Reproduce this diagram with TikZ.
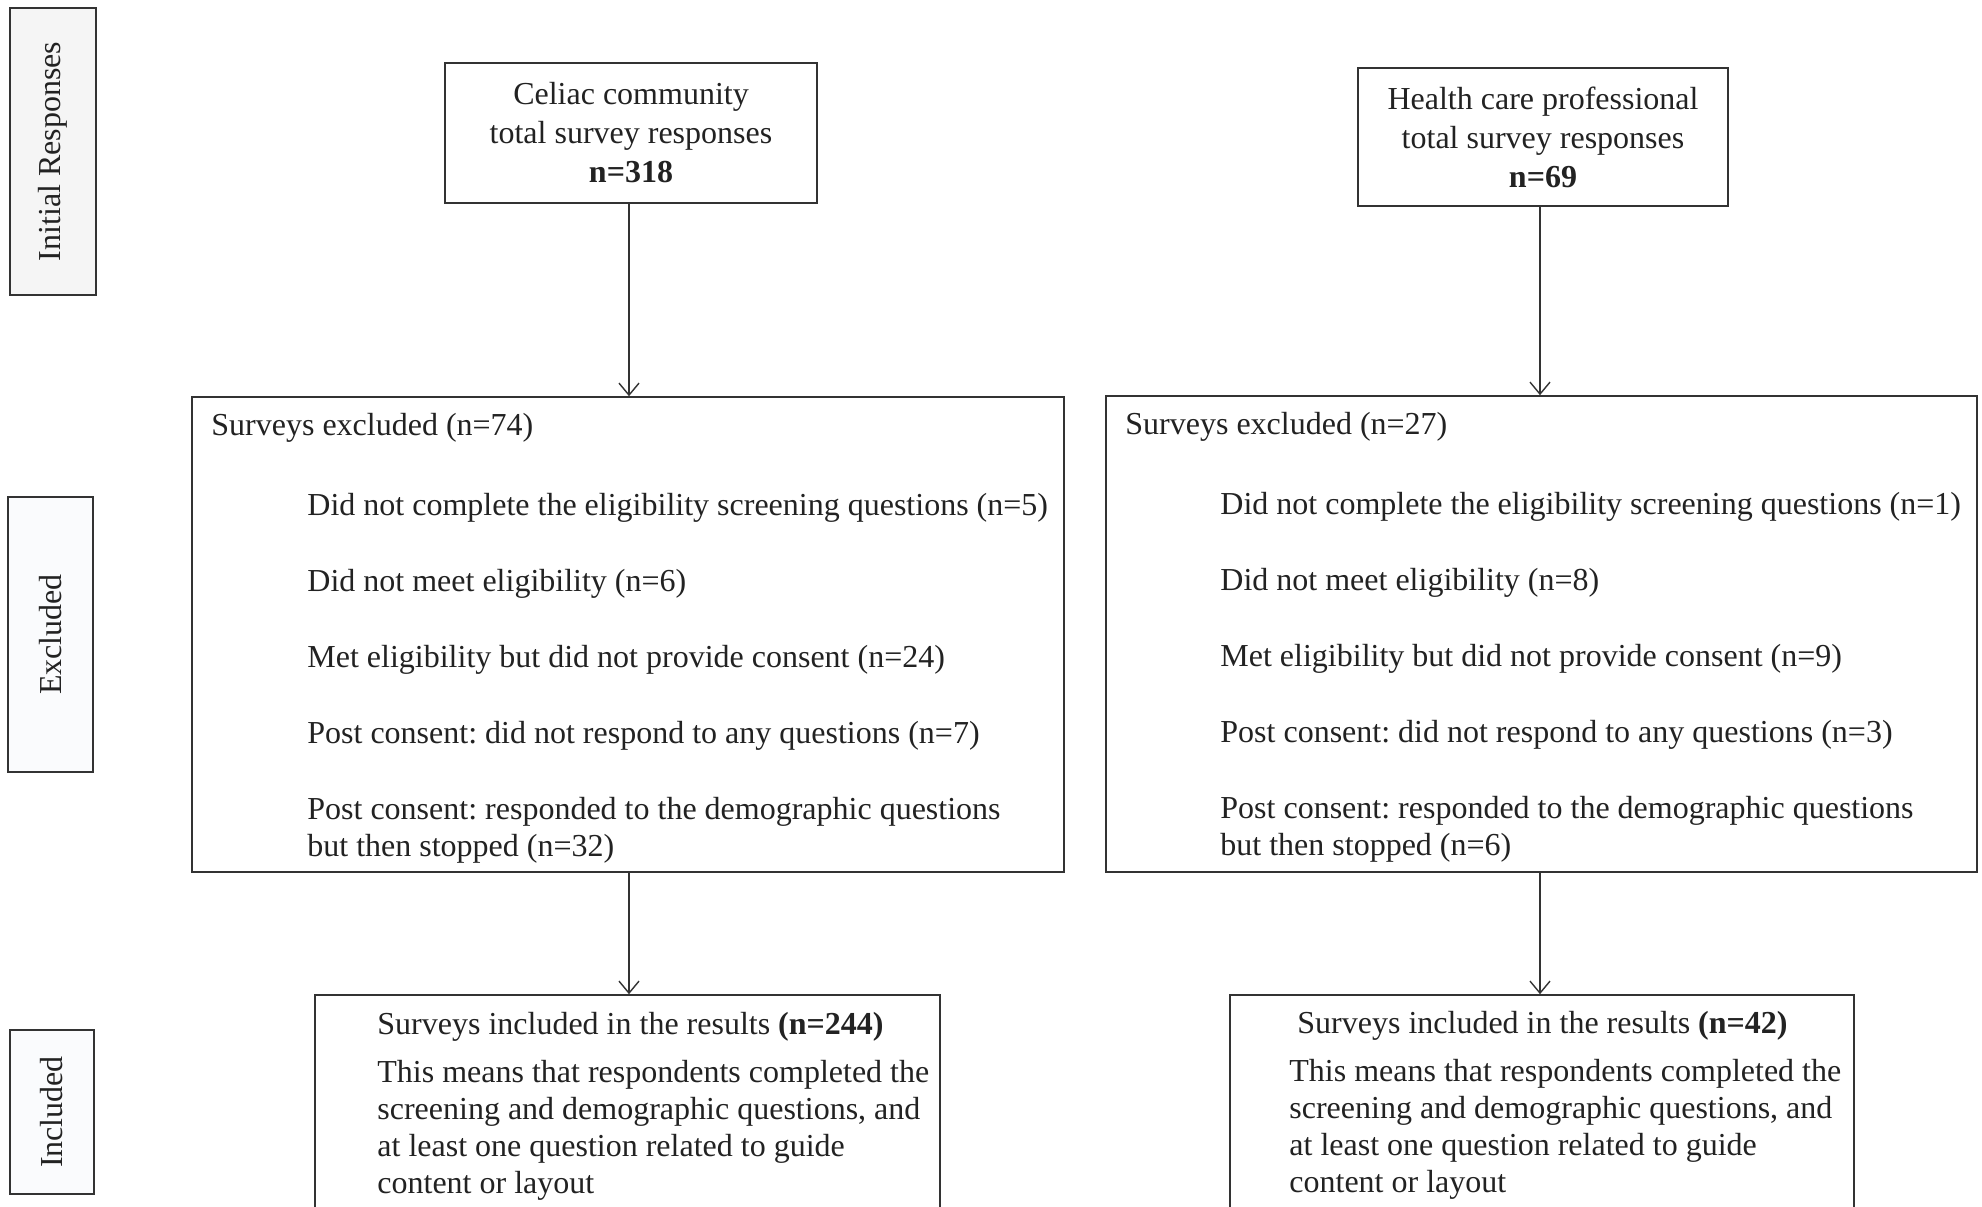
\documentclass[tikz,border=0pt]{standalone}
\usepackage{fontspec}
\setmainfont{Liberation Serif}
\usetikzlibrary{arrows.meta}
\definecolor{txt}{HTML}{222222}
\definecolor{edge}{HTML}{333333}
\definecolor{fillA}{HTML}{F5F5F5}
\definecolor{fillB}{HTML}{FAFBFD}
\frenchspacing
\begin{document}
\begin{tikzpicture}[x=0.5pt,y=-0.5pt,
  every node/.style={text=txt,font=\fontsize{16}{18.5}\selectfont},
  mainbox/.style={draw=edge,line width=0.8pt,fill=white,inner sep=0pt},
  sidebox/.style={draw=edge,line width=0.8pt,inner sep=0pt},
  sidelabel/.style={rotate=90,font=\fontsize{16}{18.5}\selectfont},
  item/.style={anchor=west,align=left,inner sep=0pt},
  flow/.style={draw=edge,line width=0.7pt,-{Straight Barb[length=6pt,width=10pt]}}
]
\clip (0,0) rectangle (1982,1206);
\fill[white] (0,0) rectangle (1982,1206);

% side labels
\node[sidebox,fill=fillA,minimum width=43pt,minimum height=143.5pt] (sInit) at (53,151.5) {};
\node[sidelabel] (lInit) at (sInit.center) {Initial Responses};
\node[sidebox,fill=fillB,minimum width=42.5pt,minimum height=137.5pt] (sExcl) at (50.5,634.5) {};
\node[sidelabel] (lExcl) at (sExcl.center) {Excluded};
\node[sidebox,fill=fillB,minimum width=42pt,minimum height=82pt] (sIncl) at (52,1112) {};
\node[sidelabel] (lIncl) at (sIncl.center) {Included};

% top boxes
\node[mainbox,minimum width=186pt,minimum height=70pt,align=center,font=\fontsize{16}{19.5}\selectfont] (celiac) at (631,133)
  {Celiac community\\total survey responses\\\textbf{n=318}};
\node[mainbox,minimum width=185pt,minimum height=69pt,align=center,font=\fontsize{16}{19.5}\selectfont] (hcp) at (1543,137)
  {Health care professional\\total survey responses\\\textbf{n=69}};

% excluded boxes
\node[mainbox,minimum width=436pt,minimum height=237.5pt] (exL) at (628,634.5) {};
\node[mainbox,minimum width=435.5pt,minimum height=238pt] (exR) at (1541.5,634) {};

\node[item] (exLh) at (211,428) {Surveys excluded (n=74)};
\node[item] (exL1) at (307,508) {Did not complete the eligibility screening questions (n=5)};
\node[item] (exL2) at (307,584) {Did not meet eligibility (n=6)};
\node[item] (exL3) at (307,660) {Met eligibility but did not provide consent (n=24)};
\node[item] (exL4) at (307,736) {Post consent: did not respond to any questions (n=7)};
\node[item] (exL5) at (307,830) {Post consent: responded to the demographic questions\\but then stopped (n=32)};

\node[item] (exRh) at (1125,427) {Surveys excluded (n=27)};
\node[item] (exR1) at (1220,507) {Did not complete the eligibility screening questions (n=1)};
\node[item] (exR2) at (1220,583) {Did not meet eligibility (n=8)};
\node[item] (exR3) at (1220,659) {Met eligibility but did not provide consent (n=9)};
\node[item] (exR4) at (1220,735) {Post consent: did not respond to any questions (n=3)};
\node[item] (exR5) at (1220,829) {Post consent: responded to the demographic questions\\but then stopped (n=6)};

% included boxes
\node[mainbox,minimum width=312.5pt,minimum height=115pt] (inL) at (627.5,1110) {};
\node[mainbox,minimum width=312pt,minimum height=115pt] (inR) at (1542,1110) {};

\node[item] (inLh) at (377,1027) {Surveys included in the results \textbf{(n=244)}};
\node[item] (inLt) at (377,1130) {This means that respondents completed the\\screening and demographic questions, and\\at least one question related to guide\\content or layout};
\node[item] (inRh) at (1297,1026) {Surveys included in the results \textbf{(n=42)}};
\node[item] (inRt) at (1289,1129) {This means that respondents completed the\\screening and demographic questions, and\\at least one question related to guide\\content or layout};

% connectors
\draw[flow] (celiac.south -| 629,0) -- (629,0 |- exL.north);
\draw[flow] (hcp.south -| 1540,0) -- (1540,0 |- exR.north);
\draw[flow] (exL.south -| 629,0) -- (629,0 |- inL.north);
\draw[flow] (exR.south -| 1540,0) -- (1540,0 |- inR.north);
\end{tikzpicture}
\end{document}
